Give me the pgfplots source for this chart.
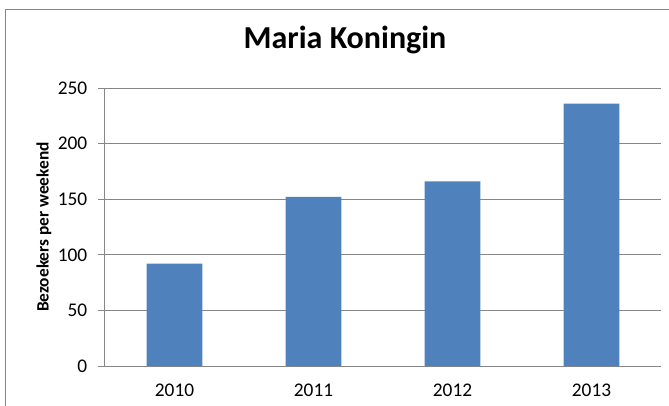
\documentclass[border=0pt]{standalone}
\usepackage{pgfplots}
\pgfplotsset{compat=1.18}
\usepackage{fontspec}
\setmainfont{Carlito}
\definecolor{barblue}{HTML}{4F81BD}
\definecolor{gridgray}{HTML}{868686}

\begin{document}
\begin{tikzpicture}
% page: 669x405 px at 0.75pt per px
\useasboundingbox (-78.75pt,-29.25pt) rectangle (423pt,274.5pt);
\clip (-78.75pt,-29.25pt) rectangle (423pt,274.5pt);
\begin{axis}[
  at={(0,0)}, anchor=south west,
  scale only axis, width=417pt, height=208.5pt,
  xmin=-0.5, xmax=3.5, ymin=0, ymax=250,
  axis x line*=bottom, axis y line*=left,
  axis line style={gridgray, line width=0.75pt, -},
  every tick/.style={gridgray, line width=0.75pt},
  tick align=outside,
  xtick={0,1,2,3},
  xticklabels={2010,2011,2012,2013},
  x tick style={draw=none},
  xticklabel style={yshift=-4.5pt},
  extra x ticks={-0.5,0.5,1.5,2.5,3.5},
  extra x tick labels={},
  extra x tick style={major tick length=5.25pt, tick style={gridgray, line width=0.75pt}},
  ytick={0,50,...,250},
  yticklabel style={xshift=-4.5pt},
  major tick length=5.25pt,
  ymajorgrids,
  grid style={gridgray, line width=0.75pt},
  /pgf/number format/assume math mode=true,
  tick label style={font=\fontsize{14.5}{17}\selectfont},
  ylabel={Bezoekers per weekend},
  ylabel style={font=\fontsize{13}{15}\selectfont\bfseries,
    at={(axis description cs:-0.1097,0.5)}, anchor=center},
  title={Maria Koningin},
  title style={font=\fontsize{24}{28}\selectfont\bfseries,
    at={(axis description cs:0.4317,1)}, anchor=base, yshift=23.5pt},
  bar width=0.4, ybar,
]
\addplot[fill=barblue, draw=none] coordinates {(0,92) (1,152) (2,166) (3,236)};
\end{axis}
\draw[gridgray, line width=0.75pt] (-74.25pt,-45pt) rectangle (434.25pt,267.75pt);
\end{tikzpicture}
\end{document}
